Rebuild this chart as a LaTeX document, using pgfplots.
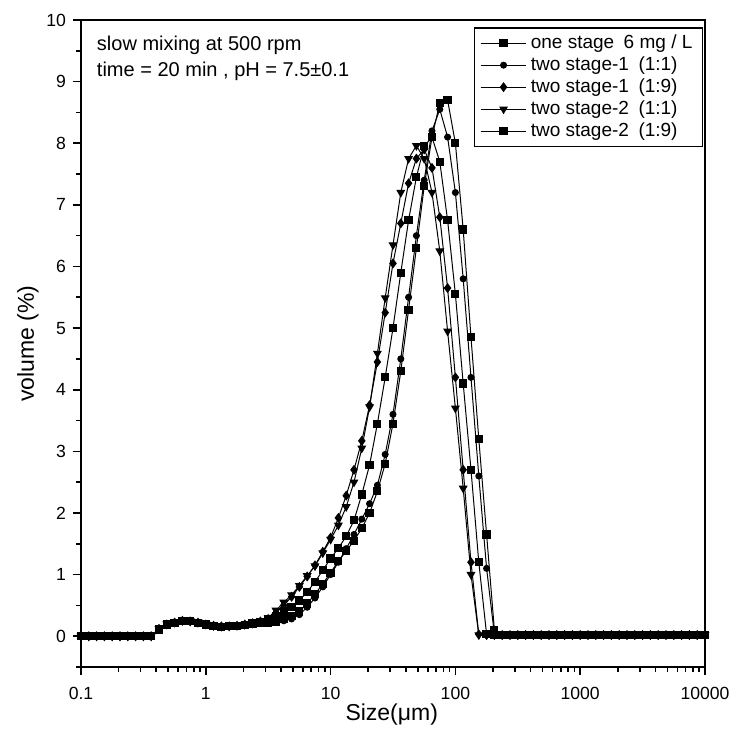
\documentclass[border=0pt]{standalone}
\usepackage{fontspec}
\setmainfont{Liberation Sans}
\usepackage{pgfplots}
\pgfplotsset{compat=1.18}
\usepackage{pgfplotstable}

\pgfplotstableread{
x A B C D E
0.1 0 0 0 0 0
0.11548 0 0 0 0 0
0.13335 0 0 0 0 0
0.15399 0 0 0 0 0
0.17783 0 0 0 0 0
0.20535 0 0 0 0 0
0.23714 0 0 0 0 0
0.27384 0 0 0 0 0
0.31623 0 0 0 0 0
0.36517 0 0 0 0 0
0.42170 0.11 0.11 0.12 0.12 0.12
0.48697 0.19 0.19 0.19 0.20 0.19
0.56234 0.22 0.23 0.22 0.23 0.22
0.64938 0.25 0.25 0.25 0.26 0.25
0.74989 0.25 0.25 0.24 0.25 0.25
0.86596 0.22 0.23 0.22 0.23 0.22
1 0.19 0.20 0.19 0.20 0.19
1.1548 0.16 0.17 0.17 0.17 0.16
1.3335 0.15 0.16 0.16 0.16 0.15
1.5399 0.16 0.16 0.16 0.17 0.16
1.7783 0.17 0.17 0.17 0.18 0.17
2.0535 0.18 0.18 0.19 0.19 0.18
2.3714 0.20 0.20 0.21 0.21 0.21
2.7384 0.21 0.21 0.24 0.25 0.23
3.1623 0.22 0.22 0.28 0.30 0.26
3.6517 0.24 0.23 0.38 0.42 0.32
4.2170 0.28 0.25 0.50 0.55 0.40
4.8697 0.33 0.28 0.64 0.67 0.48
5.6234 0.40 0.35 0.80 0.82 0.58
6.4938 0.53 0.47 0.97 0.98 0.72
7.4989 0.68 0.62 1.15 1.14 0.88
8.6596 0.85 0.80 1.37 1.35 1.07
10 1.03 1.00 1.60 1.57 1.26
11.548 1.22 1.20 1.92 1.80 1.43
13.335 1.38 1.42 2.28 2.10 1.62
15.399 1.55 1.65 2.70 2.50 1.88
17.783 1.75 1.90 3.17 3.05 2.30
20.535 2.00 2.15 3.75 3.72 2.78
23.714 2.35 2.45 4.45 4.59 3.45
27.384 2.80 2.95 5.25 5.49 4.20
31.623 3.45 3.60 6.05 6.35 5.00
36.517 4.30 4.50 6.70 7.20 5.90
42.170 5.30 5.50 7.35 7.75 6.75
48.697 6.30 6.50 7.75 7.96 7.45
56.234 7.30 7.40 7.90 7.75 7.95
64.938 8.10 8.20 7.60 7.20 8.10
74.989 8.65 8.55 6.80 6.25 7.70
86.596 8.70 8.10 5.65 4.95 6.75
100 8.00 7.20 4.20 3.70 5.55
115.48 6.60 5.80 2.70 2.40 4.10
133.35 4.85 4.20 1.20 1.00 2.70
153.99 3.20 2.60 0.03 0.02 1.20
177.83 1.65 1.10 0.02 0.02 0.03
205.35 0.10 0.03 0.02 0.02 0.02
237.14 0.02 0.02 0.02 0.02 0.02
273.84 0.02 0.02 0.02 0.02 0.02
316.23 0.02 0.02 0.02 0.02 0.02
365.17 0.02 0.02 0.02 0.02 0.02
421.70 0.02 0.02 0.02 0.02 0.02
486.97 0.02 0.02 0.02 0.02 0.02
562.34 0.02 0.02 0.02 0.02 0.02
649.38 0.02 0.02 0.02 0.02 0.02
749.89 0.02 0.02 0.02 0.02 0.02
865.96 0.02 0.02 0.02 0.02 0.02
1000 0.02 0.02 0.02 0.02 0.02
1154.8 0.02 0.02 0.02 0.02 0.02
1333.5 0.02 0.02 0.02 0.02 0.02
1539.9 0.02 0.02 0.02 0.02 0.02
1778.3 0.02 0.02 0.02 0.02 0.02
2053.5 0.02 0.02 0.02 0.02 0.02
2371.4 0.02 0.02 0.02 0.02 0.02
2738.4 0.02 0.02 0.02 0.02 0.02
3162.3 0.02 0.02 0.02 0.02 0.02
3651.7 0.02 0.02 0.02 0.02 0.02
4217.0 0.02 0.02 0.02 0.02 0.02
4869.7 0.02 0.02 0.02 0.02 0.02
5623.4 0.02 0.02 0.02 0.02 0.02
6493.8 0.02 0.02 0.02 0.02 0.02
7498.9 0.02 0.02 0.02 0.02 0.02
8659.6 0.02 0.02 0.02 0.02 0.02
10000 0.02 0.02 0.02 0.02 0.02
}\data

\begin{document}
\begin{tikzpicture}
\begin{axis}[
  name=ax,
  scale only axis,
  width=312pt, height=323.5pt,
  xmode=log, xmin=0.1, xmax=10000,
  ymin=-0.5, ymax=10,
  xtick={0.1,1,10,100,1000,10000},
  xticklabels={0.1,1,10,100,1000,10000},
  minor xtick={0.2,0.3,0.4,0.5,0.6,0.7,0.8,0.9,2,3,4,5,6,7,8,9,20,30,40,50,60,70,80,90,200,300,400,500,600,700,800,900,2000,3000,4000,5000,6000,7000,8000,9000},
  ytick={0,1,...,10},
  minor ytick={-0.5,0.5,...,9.5},
  tick align=outside,
  tick pos=left,
  axis line style={line width=1pt},
  major tick length=4pt, minor tick length=2.5pt,
  every tick/.style={black, line width=0.8pt},
  ticklabel style={font=\fontsize{8.8}{10}\selectfont},
  xticklabel style={yshift=-2.5pt},
  /pgf/number format/assume math mode=true,
  xlabel={Size(μm)}, ylabel={volume (\%)},
  label style={font=\fontsize{11.5}{13}\selectfont},
  xlabel style={at={(axis description cs:0.498,-0.074)}, anchor=center},
  ylabel style={at={(axis description cs:-0.085,0.5)}, anchor=center},
  legend style={at={(axis description cs:0.997,0.989)}, anchor=north east,
    draw=black, line width=0.7pt, font=\fontsize{9.5}{11}\selectfont,
    row sep=-1.4pt, inner xsep=3pt, inner ysep=1.5pt},
  legend cell align=left,
  legend image code/.code={\draw[mark repeat=2,mark phase=2,line width=0.5pt] plot coordinates {(0cm,0cm) (0.4cm,0cm) (0.8cm,0cm)};},
]
\addplot[black, line width=0.5pt, mark=square*, mark size=1.8pt] table[x=x,y=A] {\data};
\addlegendentry{one stage\enspace 6 mg / L}
\addplot[black, line width=0.5pt, mark=*, mark size=1.5pt] table[x=x,y=B] {\data};
\addlegendentry{two stage-1\enspace (1:1)}
\addplot[black, line width=0.5pt, mark=diamond*, mark size=2.1pt] table[x=x,y=C] {\data};
\addlegendentry{two stage-1\enspace (1:9)}
\addplot[black, line width=0.5pt, mark=triangle*, mark size=2.1pt, mark options={rotate=180}] table[x=x,y=D] {\data};
\addlegendentry{two stage-2\enspace (1:1)}
\addplot[black, line width=0.5pt, mark=square*, mark size=1.8pt] table[x=x,y=E] {\data};
\addlegendentry{two stage-2\enspace (1:9)}
\node[anchor=west, font=\fontsize{10}{12}\selectfont, inner sep=0pt] at (axis description cs:0.025,0.961) {slow mixing at 500 rpm};
\node[anchor=west, font=\fontsize{10}{12}\selectfont, inner sep=0pt] at (axis description cs:0.025,0.920) {time = 20 min , pH = 7.5±0.1};
\end{axis}
\pgfresetboundingbox
\path[use as bounding box] ([xshift=-40.5pt,yshift=-34pt]ax.south west) rectangle ([xshift=14pt,yshift=10pt]ax.north east);
\end{tikzpicture}
\end{document}
